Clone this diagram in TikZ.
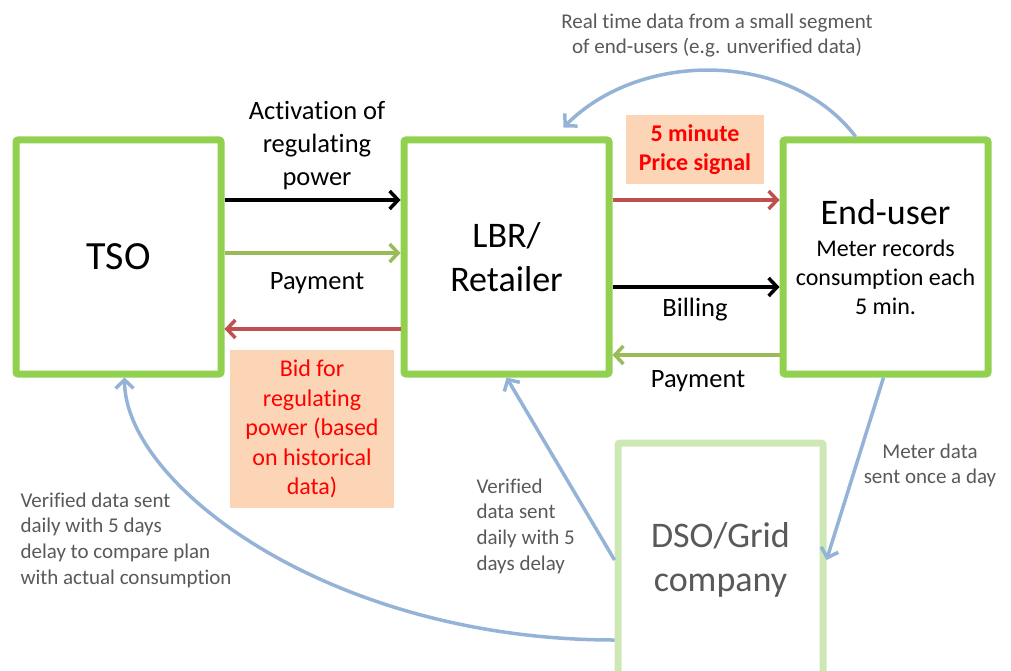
\documentclass[tikz,border=0pt]{standalone}
\usepackage{fontspec}
\setmainfont{Carlito}[Ligatures={NoCommon,NoContextual}, Contextuals=NoAlternate]
\usetikzlibrary{arrows.meta}

\definecolor{boxgreen}{RGB}{146,208,80}
\definecolor{dsogreen}{RGB}{205,232,180}
\definecolor{flowred}{RGB}{192,80,77}
\definecolor{flowgreen}{RGB}{155,187,89}
\definecolor{flowblue}{RGB}{149,179,215}
\definecolor{notefill}{RGB}{251,213,181}
\definecolor{notegray}{RGB}{89,89,89}

\tikzset{
	actor/.style={draw=boxgreen, line width=7pt, rounded corners=2pt, fill=white,
		minimum width=205, minimum height=234, align=center,
		font=\fontsize{36}{44}\selectfont},
	dsobox/.style={actor, draw=dsogreen, text=notegray},
	barb/.style={-{Straight Barb[length=8.5pt,width=18pt,line width=3.5pt]}},
	flow/.style={barb, line width=3.5pt},
	datalink/.style={barb, line width=3.5pt, draw=flowblue},
	flowlabel/.style={align=center, font=\fontsize{26.5}{33}\selectfont},
	datalabel/.style={text=notegray, font=\fontsize{21}{25.7}\selectfont},
	note/.style={fill=notefill, text=red, align=center, inner sep=0pt}
}

\begin{document}
\begin{tikzpicture}[x=1pt, y=-1pt]
			%%%%% START %%%%%
			\useasboundingbox (0,0) rectangle (1011,671);
			\clip (0,0) rectangle (1011,671);
			
			\node[actor, font=\fontsize{40}{48}\selectfont] (tso) at (118.5,257) {TSO};
			\node[actor] (lbr) at (506.5,257) {LBR/\\Retailer};
			\node[actor, font=\fontsize{24}{29}\selectfont] (eu) at (885.5,257)
				{{\fontsize{36}{40}\selectfont End-user}\\[3pt] Meter records\\ consumption each\\ 5 min.};
			\node[dsobox] (dso) at (720.5,560) {DSO/Grid\\company};
			
			% TSO <-> LBR
			\draw[flow] ([yshift=57]tso.east) -- ([yshift=57]lbr.west);
			\draw[flow, flowgreen] ([yshift=4]tso.east) -- ([yshift=4]lbr.west);
			\draw[flow, flowred] ([yshift=-72]lbr.west) -- ([yshift=-72]tso.east);
			\node[flowlabel] (activation) at (317,146) {Activation of\\regulating\\power};
			\node[flowlabel] (paytso) at (317,283) {Payment};
			\node[note, minimum width=164, minimum height=158, font=\fontsize{24}{29.5}\selectfont]
				(bid) at (312,429) {Bid for\\regulating\\power (based\\on historical\\data)};
			
			% LBR <-> End-user
			\draw[flow, flowred] ([yshift=57]lbr.east) -- ([yshift=57]eu.west);
			\draw[flow] ([yshift=-30]lbr.east) -- ([yshift=-30]eu.west);
			\draw[flow, flowgreen] ([yshift=-98]eu.west) -- ([yshift=-98]lbr.east);
			\node[note, minimum width=138, minimum height=69, font=\bfseries\fontsize{24}{29}\selectfont]
				(price) at (695,149.5) {5 minute\\Price signal};
			\node[flowlabel] (billing) at (695,310) {Billing};
			\node[flowlabel] (payeu) at (698,381) {Payment};
			
			% data flows
			\draw[datalink] ([xshift=-30]eu.north) .. controls (790,50) and (640,50) .. ([xshift=57,yshift=9]lbr.north);
			\node[datalabel, align=center] (realtime) at (717,35.5) {Real time data from a small segment\\of end-users (e.g. unverified data)};
			
			\draw[datalink] ([xshift=-2]eu.south) -- (dso.east);
			\node[datalabel, align=center] (meter) at (930,465.5) {Meter data\\sent once a day};
			
			\draw[datalink] (dso.west) -- (lbr.south);
			\node[datalabel, align=left, anchor=west] (verlbr) at (473,526) {Verified\\data sent\\daily with 5\\days delay};
			
			\draw[datalink] ([yshift=-80]dso.west) .. controls (330,640) and (125,485) .. ([xshift=6]tso.south);
			\node[datalabel, align=left, anchor=west] (vertso) at (17,540) {Verified data sent\\daily with 5 days\\delay to compare plan\\with actual consumption};
			%%%%% END %%%%%
\end{tikzpicture}
\end{document}
